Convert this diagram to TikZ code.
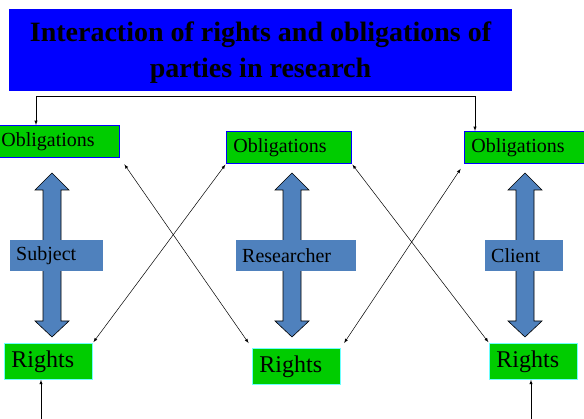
\documentclass[tikz,border=0pt]{standalone}
\usepackage{fontspec}
\setmainfont{Liberation Serif}
\usetikzlibrary{positioning, arrows}
\definecolor{titleblue}{RGB}{0,0,255}
\definecolor{boxgreen}{RGB}{0,204,0}
\definecolor{steelblue}{RGB}{79,129,189}
\definecolor{paleaqua}{RGB}{110,255,255}

\begin{document}
\begin{tikzpicture}[x=1pt,y=-1pt,>=latex,
  oblig/.style={draw=blue,fill=boxgreen,line width=0.8pt,anchor=north west,
    minimum height=32pt,text width=111pt,inner xsep=7pt,inner ysep=0pt,
    align=left,font=\fontsize{20}{24}\selectfont},
  rights/.style={draw=paleaqua,fill=boxgreen,line width=0.8pt,anchor=north west,
    minimum height=36pt,text width=74pt,inner xsep=7pt,inner ysep=0pt,
    align=left,font=\fontsize{24}{28}\selectfont},
  party/.style={fill=steelblue,anchor=north west,minimum height=31pt,
    inner xsep=6pt,inner ysep=0pt,align=left,font=\fontsize{20}{24}\selectfont},
  blockarrow/.style={fill=steelblue,draw=black,line width=0.6pt},
  thin/.style={<->,line width=0.5pt}]
\useasboundingbox (0,0) rectangle (584,419);
%%First place the nodes
\node (title) [fill=titleblue,minimum width=503pt,minimum height=82pt] at (260.5,50) {};
\node (titletext) [align=center,font=\fontsize{28}{36}\selectfont\bfseries,yshift=-3pt]
  at (title.center) {Interaction of rights and obligations of\\parties in research};
\node (ob1) [oblig] at (-6,125) {Obligations};
\node (ob2) [oblig] at (226,131) {Obligations};
\node (ob3) [oblig] at (464,131) {Obligations};
\node (ri1) [rights] at (4,343) {Rights};
\node (ri2) [rights] at (252,348) {Rights};
\node (ri3) [rights] at (489,343) {Rights};
\coordinate (tl) at (36,96);
\coordinate (tr) at (475,96);
\coordinate (bl) at (41,425);
\coordinate (br) at (531,425);
%%Draw the block arrows
\foreach \c in {52,292,525} {
  \draw[blockarrow] (\c,173) -- (\c+17,190) -- (\c+9,190) -- (\c+9,245)
    -- (\c-9,245) -- (\c-9,190) -- (\c-17,190) -- cycle;
  \draw[blockarrow] (\c-9,266) -- (\c+9,266) -- (\c+9,321) -- (\c+17,321)
    -- (\c,337) -- (\c-17,321) -- (\c-9,321) -- cycle;
}
%%Labels on top of the block arrows
\node (subject) [party,text width=81pt] at (10,240) {Subject};
\node (researcher) [party,text width=108pt] at (236,240) {Researcher};
\node (client) [party,text width=66pt] at (485,240) {Client};
%%Draw the thin arrows
\draw[thin] (tl |- ob1.north) -- (tl) -- (tr) -- (tr |- ob3.north);
\draw[->,line width=0.5pt] (bl) -- (ri1.south -| bl);
\draw[->,line width=0.5pt] (br) -- (ri3.south -| br);
\draw[thin,shorten <=8pt,shorten >=6pt] (ob1.south east) -- (ri2.north west);
\draw[thin,shorten <=1pt,shorten >=1pt] (ob2.south west) -- (ri1.north east);
\draw[thin,shorten <=1pt,shorten >=1pt] (ob2.south east) -- (ri3.north west);
\draw[thin,shorten <=6pt,shorten >=6pt] (ob3.south west) -- (ri2.north east);
\end{tikzpicture}
\end{document}
